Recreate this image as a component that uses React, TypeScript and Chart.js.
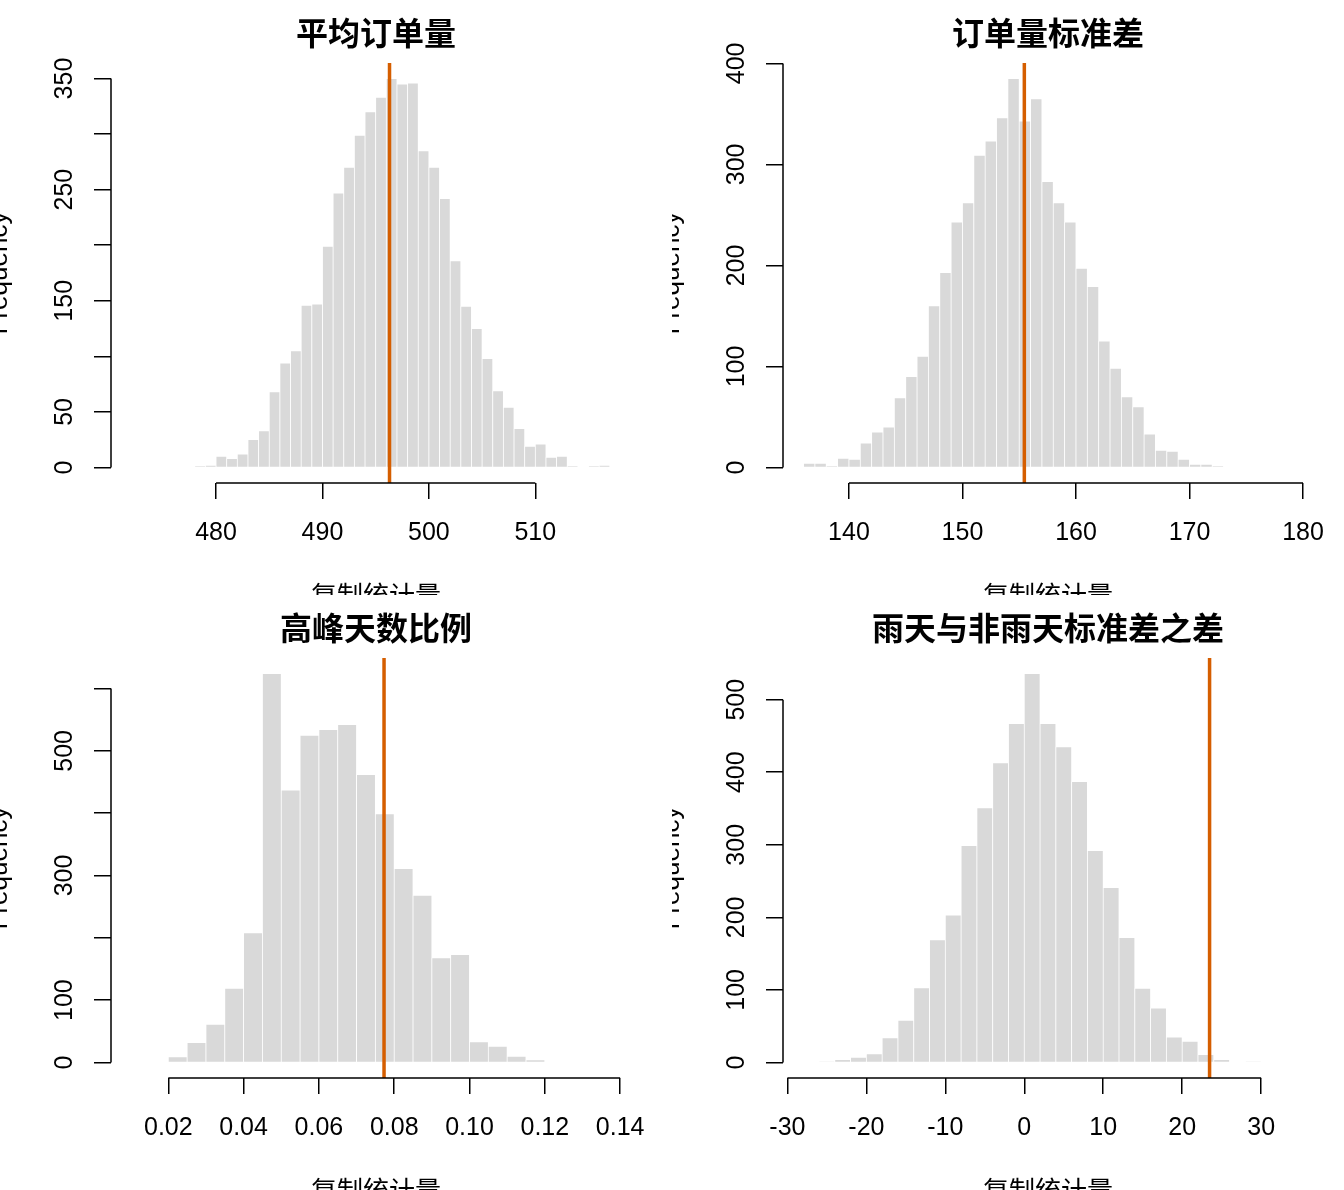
import React, { useEffect, useRef } from "react";
import { Chart, registerables } from "chart.js";

Chart.register(...registerables);

// ---- data ----
const titles = ["平均订单量", "订单量标准差", "高峰天数比例", "雨天与非雨天标准差之差"];

// panel 1: mean order volume
const meanBinStart = 478;
const meanBinWidth = 1;
const meanCounts = [
  1, 2, 10, 8, 12, 25, 33, 68, 94, 105, 146, 147, 199, 247, 270, 299, 320, 333, 350, 345,
  346, 285, 270, 242, 186, 145, 125, 98, 69, 54, 35, 19, 21, 9, 10, 1, 0, 1, 2,
];
const meanObserved = 496.3;
const meanTicks = [480, 490, 500, 510];
const meanYTicks = [0, 50, 100, 150, 200, 250, 300, 350];
const meanYShown = [0, 50, 150, 250, 350];

// panel 2: sd of order volume
const sdBinStart = 136;
const sdBinWidth = 1;
const sdCounts = [
  4, 4, 1, 9, 8, 24, 35, 40, 69, 90, 110, 160, 193, 243, 262, 309, 323, 346, 385, 343,
  365, 283, 262, 243, 197, 179, 125, 98, 70, 60, 33, 17, 16, 8, 3, 3, 1,
];
const sdObserved = 155.45;
const sdTicks = [140, 150, 160, 170, 180];
const sdYTicks = [0, 100, 200, 300, 400];
const sdYShown = [0, 100, 200, 300, 400];

// panel 3: share of peak days
const peakBinStart = 0.02;
const peakBinWidth = 0.005;
const peakCounts = [9, 32, 61, 119, 208, 624, 437, 525, 534, 542, 462, 399, 311, 268, 168, 173, 33, 26, 10, 4];
const peakObserved = 0.0773;
const peakTicks = [0.02, 0.04, 0.06, 0.08, 0.1, 0.12, 0.14];
const peakYTicks = [0, 100, 200, 300, 400, 500, 600];
const peakYShown = [0, 100, 300, 500];

// panel 4: rainy minus non-rainy sd
const diffBinStart = -26;
const diffBinWidth = 2;
const diffCounts = [
  1, 4, 7, 12, 34, 58, 103, 169, 203, 299, 351, 413, 467, 536, 467, 435, 387, 292, 241, 172,
  102, 75, 35, 29, 11, 4, 0, 1,
];
const diffObserved = 23.47;
const diffTicks = [-30, -20, -10, 0, 10, 20, 30];
const diffYTicks = [0, 100, 200, 300, 400, 500];
const diffYShown = [0, 100, 200, 300, 400, 500];

const BAR = "#D9D9D9";
const ORANGE = "#D55E00";
const FONT = '"Liberation Sans", Arial, "Noto Sans CJK SC", sans-serif';
const CJK = '"Noto Sans CJK SC", "Liberation Sans", sans-serif';

const W = 672;
const H = 595;

// R style axis lines: only from first to last tick
const axisLines = {
  id: "axisLines",
  afterDraw(chart) {
    const { ctx, chartArea } = chart;
    const x = chart.scales.x;
    const y = chart.scales.y;
    const xt = x.ticks;
    const yt = y.ticks;
    ctx.save();
    ctx.strokeStyle = "#000";
    ctx.lineWidth = 1.5;
    ctx.beginPath();
    ctx.moveTo(x.getPixelForValue(xt[0].value), chartArea.bottom);
    ctx.lineTo(x.getPixelForValue(xt[xt.length - 1].value), chartArea.bottom);
    ctx.moveTo(chartArea.left, y.getPixelForValue(yt[0].value));
    ctx.lineTo(chartArea.left, y.getPixelForValue(yt[yt.length - 1].value));
    ctx.stroke();
    ctx.restore();
  },
};

const Panel = ({ title, counts, binStart, binWidth, observed, xMin, xMax, xTicks, yTicks, yShown, digits }) => {
  const ref = useRef(null);

  useEffect(() => {
    const top = Math.max(...counts);
    const yLo = -0.04 * top;
    const yHi = 1.04 * top;
    const bars = counts.map((c, i) => ({ x: binStart + (i + 0.5) * binWidth, y: c }));

    const chart = new Chart(ref.current.getContext("2d"), {
      type: "bar",
      data: {
        datasets: [
          {
            type: "line",
            data: [
              { x: observed, y: yLo },
              { x: observed, y: yHi },
            ],
            borderColor: ORANGE,
            borderWidth: 3.5,
            pointRadius: 0,
            fill: false,
            order: 0,
          },
          {
            type: "bar",
            data: bars,
            backgroundColor: BAR,
            borderColor: "#FFFFFF",
            borderWidth: 0.75,
            borderSkipped: "start",
            barPercentage: 1,
            categoryPercentage: 1,
            order: 1,
          },
        ],
      },
      options: {
        animation: false,
        responsive: false,
        layout: { padding: { left: 0, right: 31, top: 0, bottom: 0 } },
        plugins: {
          legend: { display: false },
          tooltip: { enabled: false },
          title: {
            display: true,
            text: title,
            fullSize: false,
            color: "#000",
            font: { family: CJK, size: 32, weight: "bold", lineHeight: 1.2 },
            padding: { top: 13.8, bottom: 10.8 },
          },
        },
        scales: {
          x: {
            type: "linear",
            min: xMin,
            max: xMax,
            offset: false,
            afterBuildTicks: (s) => {
              s.ticks = xTicks.map((v) => ({ value: v }));
            },
            afterFit: (s) => {
              s.height = 112;
            },
            grid: { offset: false, drawOnChartArea: false, drawTicks: true, tickLength: 16, color: "#000", lineWidth: 1.5 },
            border: { display: false },
            ticks: {
              autoSkip: false,
              maxRotation: 0,
              color: "#000",
              padding: 19,
              font: { family: FONT, size: 25 },
              callback: (v) => Number(v).toFixed(digits),
            },
            title: {
              display: true,
              text: "复制统计量",
              color: "#000",
              font: { family: CJK, size: 26 },
              padding: { top: 0, bottom: -15.6 },
            },
          },
          y: {
            type: "linear",
            min: yLo,
            max: yHi,
            afterBuildTicks: (s) => {
              s.ticks = yTicks.map((v) => ({ value: v }));
            },
            afterFit: (s) => {
              s.width = 111;
            },
            grid: { drawOnChartArea: false, drawTicks: true, tickLength: 17, color: "#000", lineWidth: 1.5 },
            border: { display: false },
            ticks: {
              autoSkip: false,
              minRotation: 90,
              maxRotation: 90,
              crossAlign: "center",
              color: "#000",
              padding: 8,
              font: { family: FONT, size: 25 },
              callback: (v) => (yShown.includes(v) ? String(v) : ""),
            },
            title: {
              display: true,
              text: "Frequency",
              color: "#000",
              font: { family: FONT, size: 26 },
              padding: { top: -15.6, bottom: 0 },
            },
          },
        },
      },
      plugins: [axisLines],
    });

    return () => {
      chart.destroy();
    };
  }, []);

  return (
    <div style={{ width: W, height: H, overflow: "hidden" }}>
      <canvas ref={ref} width={W} height={H} style={{ display: "block" }} />
    </div>
  );
};

const App = () => {
  return (
    <div
      style={{
        position: "absolute",
        left: 0,
        top: 0,
        width: W * 2,
        height: H * 2,
        display: "grid",
        gridTemplateColumns: `${W}px ${W}px`,
        gridTemplateRows: `${H}px ${H}px`,
        background: "#fff",
      }}
    >
      <Panel
        title={titles[0]}
        counts={meanCounts}
        binStart={meanBinStart}
        binWidth={meanBinWidth}
        observed={meanObserved}
        xMin={470.13}
        xMax={519.93}
        xTicks={meanTicks}
        yTicks={meanYTicks}
        yShown={meanYShown}
        digits={0}
      />
      <Panel
        title={titles[1]}
        counts={sdCounts}
        binStart={sdBinStart}
        binWidth={sdBinWidth}
        observed={sdObserved}
        xMin={134.19}
        xMax={180.88}
        xTicks={sdTicks}
        yTicks={sdYTicks}
        yShown={sdYShown}
        digits={0}
      />
      <Panel
        title={titles[2]}
        counts={peakCounts}
        binStart={peakBinStart}
        binWidth={peakBinWidth}
        observed={peakObserved}
        xMin={0.00478}
        xMax={0.14555}
        xTicks={peakTicks}
        yTicks={peakYTicks}
        yShown={peakYShown}
        digits={2}
      />
      <Panel
        title={titles[3]}
        counts={diffCounts}
        binStart={diffBinStart}
        binWidth={diffBinWidth}
        observed={diffObserved}
        xMin={-30.56}
        xMax={36.57}
        xTicks={diffTicks}
        yTicks={diffYTicks}
        yShown={diffYShown}
        digits={0}
      />
    </div>
  );
};

export default App;
